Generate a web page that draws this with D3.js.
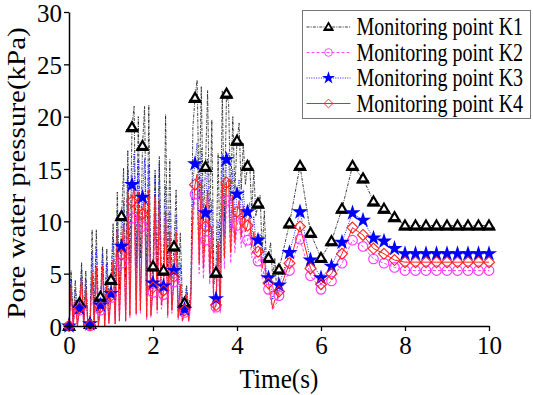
<!DOCTYPE html>
<html>
<head>
<meta charset="utf-8">
<script src="https://cdn.jsdelivr.net/npm/d3@7"></script>
<style>
  body { margin: 0; background: #fff; }
</style>
</head>
<body>
<div id="chart"></div>
<script>
// ---- data ----
const seriesNames = ["Monitoring point K1", "Monitoring point K2", "Monitoring point K3", "Monitoring point K4"];

// dense part: t = 0 … 5 s, one value every 0.05 s
const k1Dense = [
  0, 5.3, 0.5, 4.4, 1.0,
  2.2, 6.1, 0.6, 5.3, 0.3,
  0.2, 9.2, 1.2, 9.2, 1.5,
  2.8, 7.6, 1.0, 7.4, 2.0,
  4.4, 9.8, 2.5, 12.8, 3.5,
  10.5, 15.1, 4.5, 16.8, 6.0,
  19.0, 21.0, 5.5, 20.0, 6.5,
  17.2, 21.0, 4.0, 21.1, 3.5,
  5.7, 14.9, 4.5, 16.2, 5.0,
  5.3, 20.2, 5.5, 15.9, 4.5,
  7.6, 13.0, 4.0, 8.9, 2.5,
  2.2, 3.9, 1.5, 3.4, 19.0,
  21.8, 23.5, 12.0, 22.9, 10.0,
  15.2, 22.5, 9.0, 19.7, 4.0,
  5.1, 16.5, 6.0, 22.5, 10.0,
  22.2, 21.3, 12.0, 20.0, 13.0,
  17.7, 19.4, 13.0, 17.5, 13.5,
  15.3, 15.8, 11.0, 14.8, 10.5,
  11.7, 12.5, 7.0, 11.0, 6.0,
  6.5, 8.0, 4.5, 6.5, 3.0,
  5.4
];
const k2Dense = [
  0, 3.0, 0.0, 2.0, 0.0,
  1.5, 3.8, 0.0, 3.0, 0.0,
  0.0, 4.5, 0.0, 4.8, 0.0,
  1.5, 5.0, 0.0, 3.5, 0.2,
  2.7, 5.5, 0.2, 8.0, 0.4,
  6.0, 8.5, 0.4, 11.0, 0.8,
  10.3, 11.5, 1.0, 11.0, 1.2,
  9.5, 11.0, 0.6, 11.5, 0.8,
  3.2, 10.5, 1.2, 10.0, 1.6,
  3.0, 9.5, 0.8, 7.5, 1.2,
  4.2, 7.5, 0.6, 3.5, 0.4,
  1.3, 2.5, 0.4, 2.0, 9.5,
  12.6, 12.5, 5.0, 12.0, 4.5,
  8.2, 11.0, 4.0, 8.0, 1.2,
  1.8, 7.0, 1.2, 11.5, 5.5,
  12.0, 12.0, 6.0, 10.5, 7.0,
  9.6, 10.5, 7.5, 10.0, 7.5,
  8.2, 9.0, 6.5, 7.5, 6.0,
  6.2, 6.5, 4.5, 5.5, 4.0,
  3.5, 2.5, 1.5, 2.0, 2.2,
  2.9
];
const k3Dense = [
  0, 4.5, 0.0, 3.5, 0.3,
  1.7, 5.5, 0.0, 4.5, 0.0,
  0.2, 7.0, 0.3, 7.5, 0.5,
  2.0, 7.0, 0.5, 6.0, 1.0,
  3.1, 8.5, 0.8, 11.0, 1.5,
  7.6, 12.0, 1.5, 15.0, 2.5,
  13.5, 16.5, 2.5, 16.0, 2.5,
  12.3, 16.0, 2.0, 15.5, 2.0,
  4.1, 14.5, 2.5, 15.5, 3.0,
  3.8, 13.5, 2.0, 11.0, 2.0,
  5.3, 10.5, 1.5, 6.0, 1.0,
  1.6, 3.5, 1.0, 3.0, 14.0,
  15.5, 17.5, 8.0, 17.0, 7.0,
  10.8, 16.0, 6.5, 12.0, 2.5,
  2.6, 10.0, 2.5, 16.5, 8.5,
  15.9, 16.5, 9.0, 15.0, 10.0,
  12.6, 14.0, 10.0, 13.0, 10.0,
  10.9, 11.8, 8.5, 10.5, 8.0,
  8.2, 8.8, 6.0, 7.5, 5.0,
  4.6, 4.0, 2.5, 3.5, 3.0,
  3.9
];
const k4Dense = [
  0, 3.8, 0.0, 2.5, 0.0,
  1.7, 4.7, 0.0, 3.5, 0.0,
  0.1, 5.1, 0.2, 5.7, 0.0,
  1.8, 5.8, 0.0, 4.2, 0.3,
  2.9, 6.3, 0.2, 9.2, 0.5,
  6.8, 9.8, 0.5, 13.0, 1.0,
  11.9, 13.3, 1.2, 12.8, 1.5,
  10.7, 12.5, 0.8, 13.0, 1.0,
  3.7, 12.4, 1.5, 12.0, 2.0,
  3.4, 11.0, 1.0, 9.0, 1.5,
  4.7, 9.0, 0.8, 4.0, 0.5,
  1.5, 3.0, 0.5, 2.5, 11.0,
  13.5, 14.5, 6.0, 14.0, 5.5,
  9.5, 13.0, 5.0, 9.5, 1.5,
  2.0, 8.0, 1.5, 13.5, 6.5,
  13.7, 14.0, 7.0, 12.5, 8.0,
  10.9, 12.0, 8.5, 11.5, 9.0,
  9.6, 10.5, 7.5, 9.0, 7.0,
  7.1, 7.5, 5.5, 6.5, 4.5,
  4.1, 3.0, 1.7, 2.5, 2.5,
  3.3
];

// smooth part: t = 5.25 … 10 s, one value every 0.25 s
const k1Tail = [9.8, 15.3, 8.9, 6.5, 8.1, 11.2, 15.3, 14.1, 11.9, 11.2, 10.4, 9.6, 9.6, 9.6, 9.6, 9.6, 9.6, 9.6, 9.6, 9.6];
const k2Tail = [5.3, 8.3, 4.8, 3.5, 4.3, 6.0, 8.2, 7.6, 6.4, 6.0, 5.6, 5.3, 5.3, 5.3, 5.3, 5.3, 5.3, 5.3, 5.3, 5.3];
const k3Tail = [7.0, 10.9, 6.3, 4.6, 5.7, 8.0, 10.8, 10.1, 8.4, 8.1, 7.4, 6.9, 6.9, 6.9, 6.9, 6.9, 6.9, 6.9, 6.9, 6.9];
const k4Tail = [6.0, 9.5, 5.5, 4.0, 5.0, 6.9, 9.4, 8.7, 7.4, 6.9, 6.3, 6.1, 6.1, 6.1, 6.1, 6.1, 6.1, 6.1, 6.1, 6.1];

const xTicks = [0, 2, 4, 6, 8, 10];
const yTicks = [0, 5, 10, 15, 20, 25, 30];

const FONT = '"Liberation Serif", "Times New Roman", "DejaVu Serif", serif';

// ---- layout ----
const W = 533, H = 395;
const margin = { top: 12, right: 44, bottom: 69, left: 69 };
const innerW = W - margin.left - margin.right;
const innerH = H - margin.top - margin.bottom;

const svg = d3.select("#chart").append("svg")
  .attr("width", W).attr("height", H);
const g = svg.append("g").attr("transform", `translate(${margin.left},${margin.top})`);

const x = d3.scaleLinear().domain([0, 10]).range([0, innerW]);
const y = d3.scaleLinear().domain([0, 30]).range([innerH, 0]);

// sample times
const tDense = d3.range(0, 101).map(i => i * 0.05);
const tTail = d3.range(1, 21).map(i => 5 + i * 0.25);

function build(dense, tail) {
  const pts = dense.map((v, i) => ({ t: tDense[i], v, mark: i % 5 === 0 }));
  tail.forEach((v, i) => pts.push({ t: tTail[i], v, mark: true }));
  return pts;
}

const series = [
  { name: seriesNames[0], pts: build(k1Dense, k1Tail), color: "#111", dash: "3,1.2,1,1.2", width: 0.8, marker: "tri" },
  { name: seriesNames[1], pts: build(k2Dense, k2Tail), color: "#ff33ff", dash: "3,2", width: 0.9, marker: "circle" },
  { name: seriesNames[2], pts: build(k3Dense, k3Tail), color: "#0000ff", dash: "1,1.4", width: 0.9, marker: "star" },
  { name: seriesNames[3], pts: build(k4Dense, k4Tail), color: "#ff2020", dash: null, width: 1, marker: "diamond" }
];

const line = d3.line().x(d => x(d.t)).y(d => y(d.v));

// ---- lines ----
series.forEach(s => {
  g.append("path")
    .datum(s.pts)
    .attr("fill", "none")
    .attr("stroke", s.color)
    .attr("stroke-width", s.width)
    .attr("stroke-dasharray", s.dash)
    .attr("d", line);
});

// ---- markers ----
const triPath = "M0,-5 L5.2,4 L-5.2,4 Z";
const diaPath = "M0,-5.5 L5.5,0 L0,5.5 L-5.5,0 Z";
const starPath = d3.symbol(d3.symbolStar, 80)();

function drawMarker(sel, type, color) {
  if (type === "tri") {
    sel.append("path").attr("d", triPath).attr("fill", "#fff").attr("stroke", "#000").attr("stroke-width", 2.2);
    sel.append("path").attr("d", "M-5.8,3.4 L5.8,3.4").attr("stroke", "#000").attr("stroke-width", 3);
  } else if (type === "circle") {
    sel.append("circle").attr("r", 4.8).attr("fill", "none").attr("stroke", color).attr("stroke-width", 1.1);
  } else if (type === "star") {
    sel.append("path").attr("d", starPath).attr("fill", color).attr("stroke", "none");
  } else {
    sel.append("path").attr("d", diaPath).attr("fill", "none").attr("stroke", color).attr("stroke-width", 1.1);
  }
}

series.forEach(s => {
  g.append("g").selectAll("g")
    .data(s.pts.filter(d => d.mark))
    .join("g")
    .attr("transform", d => `translate(${x(d.t)},${y(d.v)})`)
    .each(function () { drawMarker(d3.select(this), s.marker, s.color); });
});

// ---- axes ----
const xAxis = g.append("g")
  .attr("transform", `translate(0,${innerH})`)
  .call(d3.axisBottom(x).tickValues(xTicks).tickSize(5).tickSizeOuter(0).tickPadding(4));
const yAxis = g.append("g")
  .call(d3.axisLeft(y).tickValues(yTicks).tickSize(5).tickSizeOuter(0).tickPadding(2));

[xAxis, yAxis].forEach(a => {
  a.attr("font-family", null);
  a.select(".domain").attr("stroke", "#000").attr("stroke-width", 1.5);
  a.selectAll(".tick line").attr("stroke", "#000").attr("stroke-width", 1.3);
  a.selectAll("text")
    .style("font-family", FONT)
    .style("font-size", "25px")
    .attr("fill", "#000");
});
xAxis.selectAll("text").attr("dy", "0.76em");
yAxis.selectAll("text").attr("dy", "0.36em");

// axis titles
svg.append("text")
  .attr("transform", `translate(${margin.left + innerW / 2},${388}) scale(0.9,1)`)
  .attr("text-anchor", "middle")
  .style("font-family", FONT)
  .style("font-size", "28px")
  .text("Time(s)");

svg.append("text")
  .attr("transform", `translate(${25},${margin.top + innerH / 2 + 4}) rotate(-90) scale(1,0.85)`)
  .attr("text-anchor", "middle")
  .style("font-family", FONT)
  .style("font-size", "29px")
  .text("Pore water pressure(kPa)");

// ---- legend ----
const lg = svg.append("g").attr("transform", "translate(302.5,10.5)");
lg.append("rect")
  .attr("width", 228).attr("height", 108)
  .attr("fill", "#fff").attr("stroke", "#777").attr("stroke-width", 1);

series.forEach((s, i) => {
  const cy = 16.5 + i * 25.5;
  lg.append("line")
    .attr("x1", 4).attr("x2", 48).attr("y1", cy).attr("y2", cy)
    .attr("stroke", s.color).attr("stroke-width", s.width)
    .attr("stroke-dasharray", s.dash);
  const m = lg.append("g").attr("transform", `translate(26,${cy}) scale(0.8)`);
  drawMarker(m, s.marker, s.color);
  lg.append("text")
    .attr("transform", `translate(54,${cy + 8}) scale(0.8,1)`)
    .style("font-family", FONT)
    .style("font-size", "25px")
    .text(s.name);
});
</script>
</body>
</html>
